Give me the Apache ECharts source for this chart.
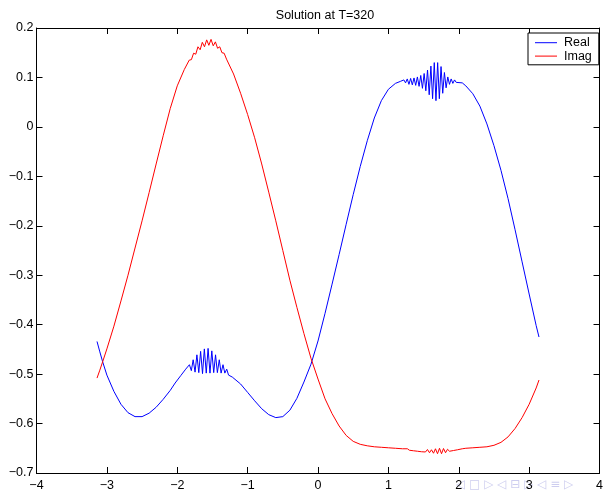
<!DOCTYPE html>
<html>
<head>
<meta charset="utf-8">
<script src="https://cdn.jsdelivr.net/npm/echarts@6/dist/echarts.min.js"></script>
<style>
html,body{margin:0;padding:0;background:#fff;}
#chart{width:606px;height:493px;}
</style>
</head>
<body>
<div id="chart"></div>
<script>
const titleText = 'Solution at T=320';
const seriesNames = ['Real', 'Imag'];
const xTicks = [-4, -3, -2, -1, 0, 1, 2, 3, 4];
const yTicks = [-0.7, -0.6, -0.5, -0.4, -0.3, -0.2, -0.1, 0, 0.1, 0.2];
const navSymbols = '\u25C1 \u25A1 \u25B7 \u25C1 \u229F \u25B7 \u25C1 \u2261 \u25B7';

const realX = [-3.14,-3.1,-3.06,-3.0,-2.9,-2.8,-2.7,-2.6,-2.5,-2.4,-2.3,-2.2,-2.1,-2.03,-1.95,
  -1.88,-1.853,-1.827,-1.80,-1.774,-1.747,-1.721,-1.694,-1.668,-1.641,-1.615,-1.588,-1.562,-1.535,
  -1.509,-1.482,-1.456,-1.43,-1.403,-1.377,-1.35,-1.324,-1.297,-1.271,-1.244,-1.218,-1.19,
  -1.1,-1.0,-0.9,-0.8,-0.7,-0.6,-0.5,-0.4,-0.3,-0.2,-0.1,0.0,0.1,0.2,0.3,0.4,0.5,0.6,0.7,0.8,0.9,1.0,1.1,1.17,
  1.22,1.244,1.268,1.292,1.316,1.34,1.364,1.388,1.412,1.436,1.46,1.484,1.508,1.532,1.556,1.58,1.604,1.628,
  1.652,1.676,1.70,1.724,1.748,1.772,1.796,1.82,1.844,1.868,1.892,1.916,1.94,1.964,1.988,
  2.05,2.1,2.2,2.3,2.4,2.5,2.6,2.7,2.8,2.9,3.0,3.1,3.14];
const realY = [-0.434,-0.455,-0.475,-0.502,-0.535,-0.561,-0.578,-0.586,-0.586,-0.579,-0.567,-0.551,-0.533,-0.518,-0.503,
  -0.490,-0.494,-0.481,-0.493,-0.471,-0.496,-0.461,-0.497,-0.454,-0.499,-0.449,-0.498,-0.448,-0.498,
  -0.453,-0.497,-0.461,-0.497,-0.471,-0.498,-0.481,-0.498,-0.490,-0.502,-0.498,-0.506,-0.507,
  -0.520,-0.537,-0.554,-0.570,-0.582,-0.588,-0.586,-0.573,-0.549,-0.516,-0.480,-0.433,-0.377,-0.318,-0.258,-0.197,-0.137,-0.080,-0.028,0.018,0.053,0.076,0.088,0.092,
  0.095,0.089,0.097,0.086,0.098,0.085,0.099,0.084,0.101,0.082,0.104,0.078,0.108,0.073,0.115,0.065,0.123,0.057,
  0.130,0.053,0.130,0.057,0.122,0.068,0.110,0.079,0.101,0.086,0.097,0.088,0.095,0.090,0.093,
  0.089,0.083,0.067,0.042,0.006,-0.038,-0.088,-0.145,-0.208,-0.273,-0.338,-0.402,-0.425];

const imagX = [-3.14,-3.1,-3.06,-3.0,-2.9,-2.8,-2.7,-2.6,-2.5,-2.4,-2.3,-2.2,-2.1,-2.0,-1.9,
  -1.83,-1.799,-1.768,-1.737,-1.706,-1.675,-1.644,-1.613,-1.582,-1.551,-1.52,-1.489,-1.458,-1.427,-1.396,-1.365,-1.334,
  -1.3,-1.2,-1.1,-1.0,-0.9,-0.8,-0.7,-0.6,-0.5,-0.4,-0.3,-0.2,-0.1,0.0,0.1,0.2,0.3,0.4,0.5,0.6,0.7,0.8,0.9,1.0,1.1,1.2,
  1.27,1.299,1.327,1.356,1.384,1.413,1.441,1.47,1.498,1.527,1.555,1.584,1.612,1.641,1.669,1.698,1.726,1.755,
  1.783,1.812,1.84,1.869,1.897,1.926,1.954,1.983,2.011,2.05,
  2.1,2.2,2.3,2.4,2.5,2.6,2.7,2.8,2.9,3.0,3.1,3.14];
const imagY = [-0.508,-0.492,-0.475,-0.449,-0.403,-0.352,-0.300,-0.245,-0.190,-0.133,-0.075,-0.018,0.037,0.083,0.116,
  0.135,0.136,0.149,0.147,0.162,0.156,0.171,0.162,0.176,0.165,0.177,0.164,0.172,0.159,0.162,0.150,0.149,
  0.137,0.107,0.068,0.025,-0.022,-0.075,-0.132,-0.190,-0.250,-0.310,-0.365,-0.418,-0.468,-0.510,-0.550,-0.580,-0.605,-0.624,-0.636,-0.642,-0.645,-0.647,-0.648,-0.649,-0.650,-0.651,
  -0.651,-0.654,-0.6515,-0.655,-0.6515,-0.656,-0.652,-0.657,-0.653,-0.6575,-0.6525,-0.659,-0.653,-0.660,-0.651,-0.661,-0.650,-0.661,
  -0.6505,-0.659,-0.652,-0.656,-0.652,-0.6545,-0.652,-0.653,-0.6515,-0.651,
  -0.650,-0.649,-0.648,-0.647,-0.644,-0.638,-0.627,-0.610,-0.588,-0.561,-0.528,-0.512];

const pair = (xs, ys) => xs.map((x, i) => [x, ys[i]]);
const fmt = v => {
  const r = Math.round(v * 10) / 10;
  const s = Math.abs(r) < 1e-9 ? '0' : String(r);
  return s.replace('-', '\u2212');
};
const FONT = 'Liberation Sans, Arial, Helvetica, sans-serif';

const chart = echarts.init(document.getElementById('chart'), null, {renderer: 'canvas'});
const axisCommon = () => ({
  axisLine: {show: true, onZero: false, lineStyle: {color: '#000', width: 1}},
  axisTick: {show: true, inside: true, length: 6, lineStyle: {color: '#000', width: 1}},
  splitLine: {show: false}
});
chart.setOption({
  animation: false,
  backgroundColor: '#fff',
  title: {
    text: titleText, left: 320, top: 4, textAlign: 'center',
    textStyle: {fontFamily: FONT, fontSize: 12.5, fontWeight: 'normal', color: '#000'}
  },
  legend: {
    data: seriesNames, orient: 'vertical', left: 528, top: 33,
    padding: [3, 7, 2, 7], itemGap: 0, itemWidth: 22, itemHeight: 1, icon: 'rect',
    borderColor: '#000', borderWidth: 1, backgroundColor: '#fff',
    textStyle: {fontFamily: FONT, fontSize: 12.5, color: '#000', lineHeight: 13.4, padding: [0, 0, 0, 2]}
  },
  grid: {left: 36.5, right: 3, top: 28, bottom: 20, containLabel: false},
  xAxis: [
    Object.assign({type: 'value', min: xTicks[0], max: xTicks[xTicks.length - 1], interval: 1, position: 'bottom',
      axisLabel: {show: true, margin: 6, color: '#000', fontFamily: FONT, fontSize: 12.5, formatter: fmt}}, axisCommon()),
    Object.assign({type: 'value', min: xTicks[0], max: xTicks[xTicks.length - 1], interval: 1, position: 'top',
      axisLabel: {show: false}}, axisCommon())
  ],
  yAxis: [
    Object.assign({type: 'value', min: yTicks[0], max: yTicks[yTicks.length - 1], interval: 0.1, position: 'left',
      axisLabel: {show: true, margin: 3, color: '#000', fontFamily: FONT, fontSize: 12.5, formatter: fmt}}, axisCommon()),
    Object.assign({type: 'value', min: yTicks[0], max: yTicks[yTicks.length - 1], interval: 0.1, position: 'right',
      axisLabel: {show: false}}, axisCommon())
  ],
  graphic: [{
    type: 'text', left: 456, top: 479, silent: true, z: 0,
    style: {text: navSymbols, fill: '#b8b8e8', font: '12px DejaVu Sans', opacity: 0.7}
  }],
  series: [
    {name: seriesNames[0], type: 'line', xAxisIndex: 0, yAxisIndex: 0, data: pair(realX, realY),
      symbol: 'none', smooth: false, lineStyle: {color: '#0000ff', width: 1}, itemStyle: {color: '#0000ff'}},
    {name: seriesNames[1], type: 'line', xAxisIndex: 0, yAxisIndex: 0, data: pair(imagX, imagY),
      symbol: 'none', smooth: false, lineStyle: {color: '#ff0000', width: 1}, itemStyle: {color: '#ff0000'}}
  ]
});
</script>
</body>
</html>
